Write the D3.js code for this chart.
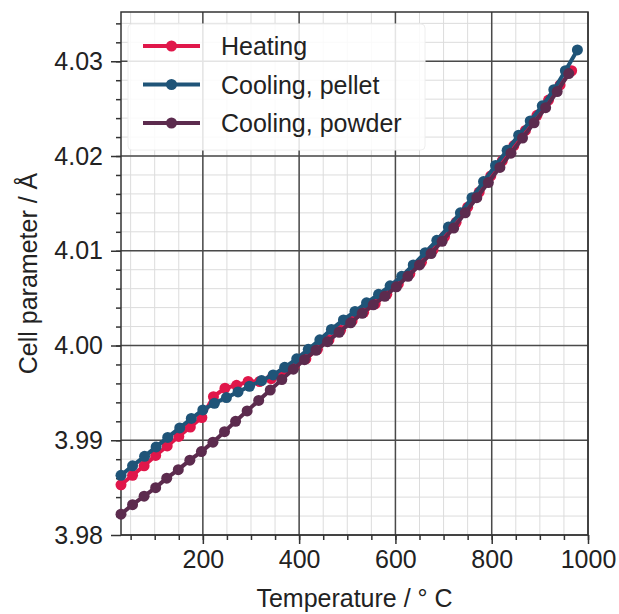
<!DOCTYPE html>
<html>
<head>
<meta charset="utf-8">
<script src="https://cdn.jsdelivr.net/npm/d3@7"></script>
<style>
  body { margin: 0; background: #fff; }
  text { font-family: "Liberation Sans", Arial, sans-serif; fill: #222; }
</style>
</head>
<body>
<div id="chart"></div>
<script>
// heating run
let heatT = [30, 54, 78, 102, 126, 150, 174, 198, 222, 246, 270, 294, 318, 342, 366, 390, 414, 438, 462, 486,
  510, 534, 558, 582, 606, 630, 654, 678, 702, 726, 750, 774, 798, 822, 846, 870, 894, 918, 942, 966];
let heatA = [3.9853, 3.9863, 3.9873, 3.9884, 3.9894, 3.9904, 3.9914, 3.9924, 3.9946, 3.9955, 3.9958, 3.9962,
  3.9962, 3.9965, 3.9971, 3.9978, 3.9986, 3.9996, 4.0006, 4.0016, 4.0026, 4.0035, 4.0044, 4.0054, 4.0065,
  4.0076, 4.0088, 4.0101, 4.0115, 4.0130, 4.0146, 4.0162, 4.0179, 4.0195, 4.0211, 4.0227, 4.0243, 4.0259,
  4.0275, 4.0290];

// cooling, pellet
let pelletT = [30, 54, 79, 103, 127, 152, 176, 200, 224, 249, 273, 297, 322, 346, 370, 395, 419, 443, 467, 492,
  516, 540, 565, 589, 613, 637, 662, 686, 710, 735, 759, 783, 808, 832, 856, 880, 905, 929, 953, 978];
let pelletA = [3.9863, 3.9873, 3.9883, 3.9893, 3.9903, 3.9913, 3.9923, 3.9932, 3.9939, 3.9945, 3.9951, 3.9957,
  3.9963, 3.9969, 3.9977, 3.9986, 3.9996, 4.0006, 4.0017, 4.0027, 4.0036, 4.0045, 4.0054, 4.0063, 4.0073,
  4.0085, 4.0098, 4.0111, 4.0125, 4.0140, 4.0156, 4.0173, 4.0190, 4.0206, 4.0222, 4.0237, 4.0253, 4.0270,
  4.0290, 4.0312];

// cooling, powder
let powderT = [30, 54, 78, 102, 125, 149, 173, 197, 221, 245, 268, 292, 316, 340, 364, 388, 411, 435, 459, 483,
  507, 531, 554, 578, 602, 626, 650, 674, 697, 721, 745, 769, 793, 817, 840, 864, 888, 912, 936, 960];
let powderA = [3.9822, 3.9832, 3.9841, 3.9850, 3.9860, 3.9869, 3.9879, 3.9888, 3.9898, 3.9909, 3.9920, 3.9931,
  3.9942, 3.9953, 3.9964, 3.9975, 3.9985, 3.9995, 4.0004, 4.0014, 4.0024, 4.0034, 4.0043, 4.0052, 4.0062,
  4.0073, 4.0085, 4.0097, 4.0110, 4.0124, 4.0140, 4.0156, 4.0172, 4.0188, 4.0203, 4.0219, 4.0235, 4.0251,
  4.0268, 4.0287];

let seriesNames = ["Heating", "Cooling, pellet", "Cooling, powder"];
let seriesColors = ["#e0174a", "#1f5478", "#5c2b4e"];

let xTicks = [200, 400, 600, 800, 1000];
let yTicks = [3.98, 3.99, 4.00, 4.01, 4.02, 4.03];

let margin = {top: 12, right: 31, bottom: 79, left: 121},
  width = 619 - margin.left - margin.right,
  height = 614 - margin.top - margin.bottom;

let svg = d3.select("#chart")
  .append("svg")
  .attr("width", 619)
  .attr("height", 614)
  .append("g")
  .attr("transform", "translate(" + margin.left + "," + margin.top + ")");

let x = d3.scaleLinear().domain([30, 1000]).range([0, width]);
let y = d3.scaleLinear().domain([3.98, 4.0352]).range([height, 0]);

// minor grid
let xMinor = d3.range(50, 1001, 50);
let yMinor = d3.range(3.982, 4.0352, 0.002);
svg.append("g").selectAll("line").data(xMinor).enter().append("line")
  .attr("x1", d => x(d)).attr("x2", d => x(d))
  .attr("y1", 0).attr("y2", height)
  .style("stroke", "#dcdcdc").style("stroke-width", 1);
svg.append("g").selectAll("line").data(yMinor).enter().append("line")
  .attr("x1", 0).attr("x2", width)
  .attr("y1", d => y(d)).attr("y2", d => y(d))
  .style("stroke", "#dcdcdc").style("stroke-width", 1);

// major grid
svg.append("g").selectAll("line").data(xTicks).enter().append("line")
  .attr("x1", d => x(d)).attr("x2", d => x(d))
  .attr("y1", 0).attr("y2", height)
  .style("stroke", "#4a4a4a").style("stroke-width", 1.5);
svg.append("g").selectAll("line").data(yTicks).enter().append("line")
  .attr("x1", 0).attr("x2", width)
  .attr("y1", d => y(d)).attr("y2", d => y(d))
  .style("stroke", "#4a4a4a").style("stroke-width", 1.5);

// minor ticks
svg.append("g")
  .attr("transform", "translate(0," + height + ")")
  .call(d3.axisBottom(x).tickValues(xMinor).tickSize(5).tickFormat(""))
  .call(g => g.select(".domain").remove());
svg.append("g")
  .call(d3.axisLeft(y).tickValues(yMinor).tickSize(5).tickFormat(""))
  .call(g => g.select(".domain").remove());

// major axes
let xAxis = svg.append("g")
  .attr("transform", "translate(0," + height + ")")
  .call(d3.axisBottom(x).tickValues(xTicks).tickSize(9).tickPadding(6).tickFormat(d3.format("d")));
let yAxis = svg.append("g")
  .call(d3.axisLeft(y).tickValues(yTicks).tickSize(10).tickPadding(8).tickFormat(d3.format(".2f")));
[xAxis, yAxis].forEach(a => {
  a.select(".domain").remove();
  a.selectAll("text").style("font-size", "25px").style("fill", "#222")
    .style("font-family", "'Liberation Sans', Arial, sans-serif");
});
svg.selectAll(".tick line").style("stroke", "#333").style("stroke-width", 1.5);

// frame
svg.append("rect")
  .attr("width", width).attr("height", height)
  .style("fill", "none").style("stroke", "#333").style("stroke-width", 1.5);

// series
let series = [
  {name: seriesNames[0], t: heatT, a: heatA, color: seriesColors[0]},
  {name: seriesNames[1], t: pelletT, a: pelletA, color: seriesColors[1]},
  {name: seriesNames[2], t: powderT, a: powderA, color: seriesColors[2]}
];
let line = d3.line().x(d => x(d[0])).y(d => y(d[1]));
series.forEach(s => {
  let pts = s.t.map((t, i) => [t, s.a[i]]);
  let g = svg.append("g");
  g.append("path").datum(pts)
    .attr("d", line)
    .style("fill", "none").style("stroke", s.color).style("stroke-width", 4);
  g.selectAll("circle").data(pts).enter().append("circle")
    .attr("cx", d => x(d[0])).attr("cy", d => y(d[1]))
    .attr("r", 5.5)
    .style("fill", s.color);
});

// legend
let legend = svg.append("g").attr("transform", "translate(7,12)");
legend.append("rect")
  .attr("width", 297).attr("height", 126).attr("rx", 4)
  .style("fill", "#fff").style("fill-opacity", 0.85)
  .style("stroke", "#eeeeee");
series.forEach((s, i) => {
  let row = legend.append("g").attr("transform", "translate(0," + (22 + i * 38.5) + ")");
  row.append("line").attr("x1", 15).attr("x2", 72).attr("y1", 0).attr("y2", 0)
    .style("stroke", s.color).style("stroke-width", 4);
  row.append("circle").attr("cx", 43.5).attr("cy", 0).attr("r", 5.5).style("fill", s.color);
  row.append("text").attr("x", 93).attr("y", 9)
    .style("font-size", "25px").text(s.name);
});

// axis titles
svg.append("text")
  .attr("x", width / 2).attr("y", height + 72)
  .attr("text-anchor", "middle")
  .style("font-size", "25px")
  .text("Temperature / ° C");
svg.append("text")
  .attr("transform", "rotate(-90)")
  .attr("x", -height / 2).attr("y", -84)
  .attr("text-anchor", "middle")
  .style("font-size", "25px")
  .text("Cell parameter / Å");
</script>
</body>
</html>
